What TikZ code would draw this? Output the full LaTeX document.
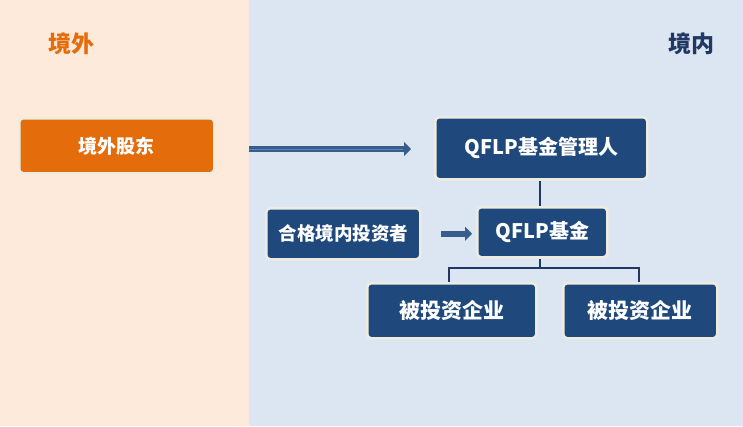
\documentclass[tikz,border=0pt]{standalone}
\usepackage{fontspec}
\setmainfont{Noto Sans CJK SC}[BoldFont={Noto Sans CJK SC Black}]
\usetikzlibrary{arrows.meta}
\definecolor{peach}{HTML}{FDEADA}
\definecolor{paleblue}{HTML}{DCE6F2}
\definecolor{orng}{HTML}{E46C0A}
\definecolor{navy}{HTML}{1F497D}
\definecolor{darknavy}{HTML}{1F3864}
\definecolor{cream}{HTML}{EEECE1}
\definecolor{shaft}{HTML}{385D8A}
\definecolor{shaftlight}{HTML}{5A86C0}
\tikzset{
  x=1pt, y=-1pt,
  boxstyle/.style={draw=cream, line width=2.5pt, rounded corners=4pt, fill=navy,
    text=white, font=\bfseries\fontsize{20}{22}\selectfont, inner sep=0pt, anchor=north west},
  obox/.style={boxstyle, fill=orng},
  title/.style={font=\bfseries\fontsize{23}{25}\selectfont},
  link/.style={draw=darknavy, line width=2.5pt},
  bigarrow/.style={draw=shaft, line width=6pt, -{Triangle[length=7pt,width=14pt]}},
  lightline/.style={draw=shaftlight, line width=1pt},
}
\begin{document}
\begin{tikzpicture}
\useasboundingbox (0,0) rectangle (743,426);
\fill[peach] (0,0) rectangle (249,426);
\fill[paleblue] (249,0) rectangle (743,426);

\node[title, text=orng] (tout) at (71,44) {境外};
\node[title, text=darknavy] (tin) at (691,44) {境内};

\node[obox, minimum width=195pt, minimum height=55pt, font=\bfseries\fontsize{19}{21}\selectfont] (sh) at (18,117) {境外股东};
\node[boxstyle, minimum width=212pt, minimum height=62pt] (mgr) at (434,116) {QFLP基金管理人};
\node[boxstyle, minimum width=154pt, minimum height=51pt, font=\bfseries\fontsize{18.5}{20}\selectfont] (inv) at (265,207) {合格境内投资者};
\node[boxstyle, minimum width=130pt, minimum height=50pt] (fund) at (476,206) {QFLP基金};
\node[boxstyle, minimum width=169pt, minimum height=55pt, font=\bfseries\fontsize{21}{23}\selectfont] (c1) at (366,282) {被投资企业};
\node[boxstyle, minimum width=154pt, minimum height=55pt, font=\bfseries\fontsize{21}{23}\selectfont] (c2) at (562,282) {被投资企业};

% arrow from the border to the manager
\coordinate (a1s) at (249,149);
\coordinate (a1e) at ([xshift=-23pt]mgr.west |- a1s);
\draw[bigarrow] (a1s) -- (a1e);
\draw[lightline] (a1s) -- ([xshift=-8pt]a1e);

% investor to fund
\coordinate (a2s) at ([xshift=19pt]inv.east);
\coordinate (a2e) at ([xshift=-4pt]fund.west |- a2s);
\draw[bigarrow] (a2s) -- (a2e);

% manager to fund
\draw[link] (mgr.south -| 540,0) -- (fund.north -| 540,0);

% fund to companies
\coordinate (bar) at (540,268);
\draw[link] (fund.south -| bar) -- (bar);
\draw[link] (c1.north -| 449,0) |- (bar) -| (c2.north -| 639,0);
\end{tikzpicture}
\end{document}
